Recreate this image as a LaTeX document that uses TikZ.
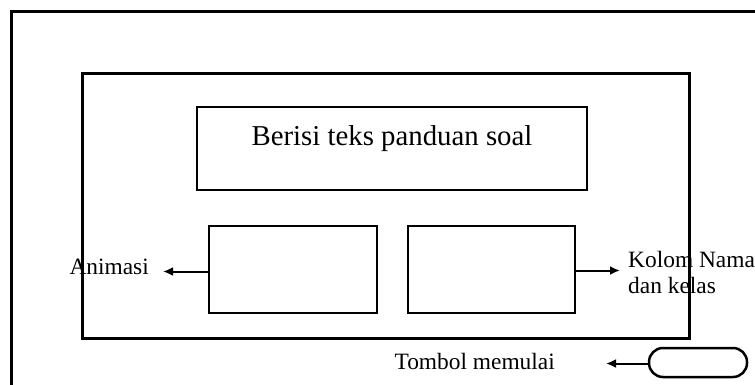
\documentclass[tikz,border=0pt]{standalone}
\usepackage{fontspec}
\setmainfont{Liberation Serif}
\usetikzlibrary{arrows.meta, positioning}

\begin{document}
\begin{tikzpicture}[
						x=1pt, y=-1pt,
						frame/.style = {draw, line width=3pt},
						kotak/.style = {draw, rectangle, line width=2.5pt, inner sep=0pt},
						tipis/.style = {draw, rectangle, line width=1.2pt, inner sep=0pt},
						tombol/.style = {draw, rectangle, rounded corners=14pt, line width=2.5pt, inner sep=0pt},
						teks/.style = {inner sep=0pt, font=\fontsize{23.4}{26.5}\selectfont},
						panah/.style = {-{Latex[length=10pt, width=9pt]}, line width=2pt}
					]
\useasboundingbox (0,0) rectangle (755,385);
\clip (0,0) rectangle (755,385);
% layar luar terpotong di kanan dan bawah
\draw[frame] (11,12) rectangle (800,430);

\node[kotak, line width=3pt, minimum width=607pt, minimum height=264pt] (layar) at (385.5,206) {};
\node[tipis, minimum width=390pt, minimum height=83pt] (panduan) at (392,148.5) {};
\node[teks, font=\fontsize{28.8}{32}\selectfont] (judul) [below=19pt of panduan.north] {Berisi teks panduan soal};

\node[kotak, minimum width=168pt, minimum height=87pt] (kotakA) at (293,269.5) {};
\node[kotak, minimum width=167pt, minimum height=87pt] (kotakB) at (491.5,269.5) {};
\node[teks, anchor=base east] (lblA) at (149,274) {Animasi};
\node[teks, anchor=north west, align=left] (lblB) at (628,251) {Kolom Nama\\dan kelas};

\node[tombol, minimum width=98pt, minimum height=29pt] (mulai) at (698,362.5) {};
\node[teks, anchor=base east] (lblC) at (555,369) {Tombol memulai};

\draw[panah, shorten >=14pt] ([yshift=-2pt]kotakA.west) -- ([yshift=-2pt]kotakA.west -| lblA.east);
\draw[panah, shorten >=8pt] ([yshift=-1pt]kotakB.east) -- ([yshift=-1pt]kotakB.east -| lblB.west);
\draw[panah, shorten >=51pt] ([yshift=-1pt]mulai.west) -- ([yshift=-1pt]mulai.west -| lblC.east);
\end{tikzpicture}
\end{document}
